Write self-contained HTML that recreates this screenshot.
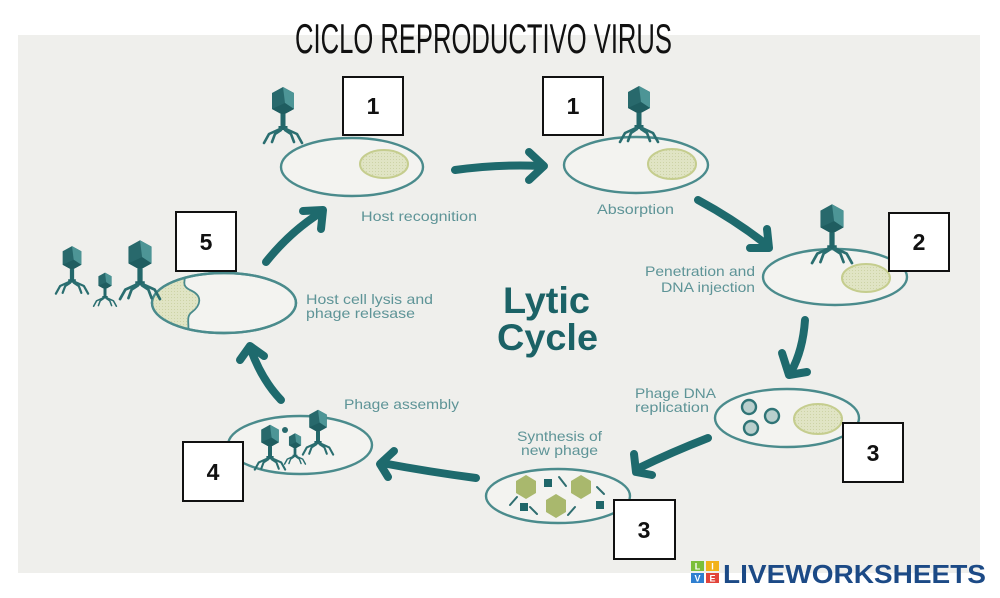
<!DOCTYPE html>
<html><head><meta charset="utf-8"><style>
html,body{margin:0;padding:0;background:#fff;}
svg{display:block;}
</style></head><body>
<svg width="1000" height="598" viewBox="0 0 1000 598" xmlns="http://www.w3.org/2000/svg">
<defs>
  <g id="phage">
    <polygon points="0,-14 11,-8 11,8 0,14 -11,8 -11,-8" fill="#28696c"/>
    <polygon points="0,-14 11,-8 11,8 2,2" fill="#4d9596"/>
    <polygon points="0,14 -11,8 2,2 11,8" fill="#1f5d60"/>
    <rect x="-2.5" y="13" width="5" height="14" fill="#23676a"/>
    <rect x="-4.5" y="25" width="9" height="4" fill="#23676a"/>
    <g stroke="#2a6e70" stroke-width="2.6" fill="none" stroke-linecap="round" stroke-linejoin="round">
      <polyline points="-3,28 -14,33 -19,42"/>
      <polyline points="3,28 14,33 19,42"/>
      <polyline points="-2,29 -8,33 -11,41"/>
      <polyline points="2,29 8,33 11,41"/>
    </g>
  </g>
  <clipPath id="lysisClip"><ellipse cx="224" cy="303" rx="72" ry="30"/></clipPath>
  <pattern id="dots" width="3" height="3" patternUnits="userSpaceOnUse">
    <rect width="3" height="3" fill="#e0e4c4"/>
    <rect width="1" height="1" fill="#cdd3a6"/>
  </pattern>
</defs>

<!-- panel -->
<rect x="18" y="35" width="962" height="538" fill="#efefec"/>

<!-- title -->
<text x="295" y="53" font-family="'Liberation Sans Narrow','Liberation Sans',sans-serif" font-size="42" textLength="377" lengthAdjust="spacingAndGlyphs" fill="#111">CICLO REPRODUCTIVO VIRUS</text>

<!-- ellipses (cells) -->
<g fill="#f3f3f0" stroke="#4a8b8c" stroke-width="2.4">
  <ellipse cx="352" cy="167" rx="71" ry="29"/>
  <ellipse cx="636" cy="165" rx="72" ry="28"/>
  <ellipse cx="835" cy="277" rx="72" ry="28"/>
  <ellipse cx="787" cy="418" rx="72" ry="29"/>
  <ellipse cx="558" cy="496" rx="72" ry="27"/>
  <ellipse cx="300" cy="445" rx="72" ry="29"/>
  <ellipse cx="224" cy="303" rx="72" ry="30"/>
</g>
<!-- nuclei -->
<g fill="url(#dots)" stroke="#c5cd8e" stroke-width="2">
  <ellipse cx="384" cy="164" rx="24" ry="14"/>
  <ellipse cx="672" cy="164" rx="24" ry="15"/>
  <ellipse cx="866" cy="278" rx="24" ry="14"/>
  <ellipse cx="818" cy="419" rx="24" ry="15"/>
</g>
<!-- replication DNA circles -->
<g fill="#b9cfcd" stroke="#2f7476" stroke-width="2.4">
  <circle cx="749" cy="407" r="7"/>
  <circle cx="772" cy="416" r="7"/>
  <circle cx="751" cy="428" r="7"/>
</g>
<!-- synthesis contents -->
<g fill="#a9b86d">
  <polygon points="526,475 536,481 536,493 526,499 516,493 516,481"/>
  <polygon points="581,475 591,481 591,493 581,499 571,493 571,481"/>
  <polygon points="556,494 566,500 566,512 556,518 546,512 546,500"/>
</g>
<g fill="#1f6669">
  <rect x="544" y="479" width="8" height="8"/>
  <rect x="520" y="503" width="8" height="8"/>
  <rect x="596" y="501" width="8" height="8"/>
</g>
<g stroke="#2f6e70" stroke-width="2" stroke-linecap="round">
  <line x1="559" y1="477" x2="566" y2="486"/>
  <line x1="597" y1="487" x2="604" y2="494"/>
  <line x1="517" y1="497" x2="510" y2="505"/>
  <line x1="530" y1="507" x2="537" y2="514"/>
  <line x1="575" y1="507" x2="568" y2="515"/>
</g>
<!-- lysis broken part -->
<g clip-path="url(#lysisClip)">
  <path d="M140 268 L182 268 C190 278 178 284 190 290 C204 296 200 306 192 312 C184 318 192 326 186 340 L140 340 Z" fill="url(#dots)" stroke="#4a8b8c" stroke-width="1.8"/>
</g>
<ellipse cx="224" cy="303" rx="72" ry="30" fill="none" stroke="#4a8b8c" stroke-width="2.4"/>

<!-- phages -->
<use href="#phage" transform="translate(283,101)"/>
<use href="#phage" transform="translate(639,100)"/>
<use href="#phage" transform="translate(832,219) scale(1.05)"/>
<use href="#phage" transform="translate(72,258) scale(0.85)"/>
<use href="#phage" transform="translate(105,281) scale(0.6)"/>
<use href="#phage" transform="translate(140,255) scale(1.05)"/>
<use href="#phage" transform="translate(270,436) scale(0.8)"/>
<use href="#phage" transform="translate(295,441) scale(0.55)"/>
<circle cx="285" cy="430" r="3" fill="#28696c"/>
<use href="#phage" transform="translate(318,421) scale(0.8)"/>

<!-- arrows -->
<g stroke="#1e6a6d" stroke-width="8" fill="none" stroke-linecap="round" stroke-linejoin="round">
  <path d="M455 170 Q500 164 541 166"/>
  <polyline points="529,152 544,166 529,180"/>
  <path d="M698 200 Q735 220 767 245"/>
  <polyline points="767,229 769,248 750,248"/>
  <path d="M805 320 Q803 350 791 372"/>
  <polyline points="782,353 789,375 807,372"/>
  <path d="M708 438 Q672 452 639 468"/>
  <polyline points="634,454 636,472 652,475"/>
  <path d="M476 478 Q430 472 382 463"/>
  <polyline points="394,451 380,464 388,477"/>
  <path d="M281 400 Q262 380 251 350"/>
  <polyline points="240,360 250,346 264,356"/>
  <path d="M266 262 Q290 232 320 213"/>
  <polyline points="303,211 323,210 321,229"/>
</g>

<!-- labels -->
<g font-family="'Liberation Sans',sans-serif" font-size="14" fill="#5e9497">
  <text x="361" y="221" textLength="116" lengthAdjust="spacingAndGlyphs">Host recognition</text>
  <text x="597" y="214" textLength="77" lengthAdjust="spacingAndGlyphs">Absorption</text>
  <text x="645" y="276" textLength="110" lengthAdjust="spacingAndGlyphs">Penetration and</text>
  <text x="661" y="292" textLength="94" lengthAdjust="spacingAndGlyphs">DNA injection</text>
  <text x="635" y="398" textLength="81" lengthAdjust="spacingAndGlyphs">Phage DNA</text>
  <text x="635" y="412" textLength="74" lengthAdjust="spacingAndGlyphs">replication</text>
  <text x="517" y="441" textLength="85" lengthAdjust="spacingAndGlyphs">Synthesis of</text>
  <text x="521" y="455" textLength="77" lengthAdjust="spacingAndGlyphs">new phage</text>
  <text x="344" y="409" textLength="115" lengthAdjust="spacingAndGlyphs">Phage assembly</text>
  <text x="306" y="304" textLength="127" lengthAdjust="spacingAndGlyphs">Host cell lysis and</text>
  <text x="306" y="318" textLength="109" lengthAdjust="spacingAndGlyphs">phage relesase</text>
</g>

<!-- Lytic Cycle -->
<g font-family="'Liberation Sans',sans-serif" font-weight="bold" font-size="37" fill="#1b6266">
  <text x="503" y="313" textLength="87" lengthAdjust="spacingAndGlyphs">Lytic</text>
  <text x="497" y="350" textLength="101" lengthAdjust="spacingAndGlyphs">Cycle</text>
</g>

<!-- number boxes -->
<g fill="#fff" stroke="#111" stroke-width="2">
  <rect x="343" y="77" width="60" height="58"/>
  <rect x="543" y="77" width="60" height="58"/>
  <rect x="889" y="213" width="60" height="58"/>
  <rect x="843" y="423" width="60" height="59"/>
  <rect x="614" y="500" width="61" height="59"/>
  <rect x="183" y="442" width="60" height="59"/>
  <rect x="176" y="212" width="60" height="59"/>
</g>
<g font-family="'Liberation Sans',sans-serif" font-weight="bold" font-size="23" fill="#111" text-anchor="middle">
  <text x="373" y="114">1</text>
  <text x="573" y="114">1</text>
  <text x="919" y="250">2</text>
  <text x="873" y="461">3</text>
  <text x="644" y="538">3</text>
  <text x="213" y="480">4</text>
  <text x="206" y="250">5</text>
</g>

<!-- logo -->
<g>
  <rect x="691" y="561" width="13" height="10" fill="#7cbf3a"/>
  <rect x="706" y="561" width="13" height="10" fill="#f2b21a"/>
  <rect x="691" y="573" width="13" height="10" fill="#2f7fd0"/>
  <rect x="706" y="573" width="13" height="10" fill="#e2433a"/>
  <g font-family="'Liberation Sans',sans-serif" font-weight="bold" font-size="9" fill="#fff" text-anchor="middle">
    <text x="697.5" y="569.5">L</text>
    <text x="712.5" y="569.5">I</text>
    <text x="697.5" y="581.5">V</text>
    <text x="712.5" y="581.5">E</text>
  </g>
  <text x="723" y="583" font-family="'Liberation Sans',sans-serif" font-weight="bold" font-size="26" fill="#1c4a86" textLength="263" lengthAdjust="spacingAndGlyphs">LIVEWORKSHEETS</text>
</g>
</svg>
</body></html>
